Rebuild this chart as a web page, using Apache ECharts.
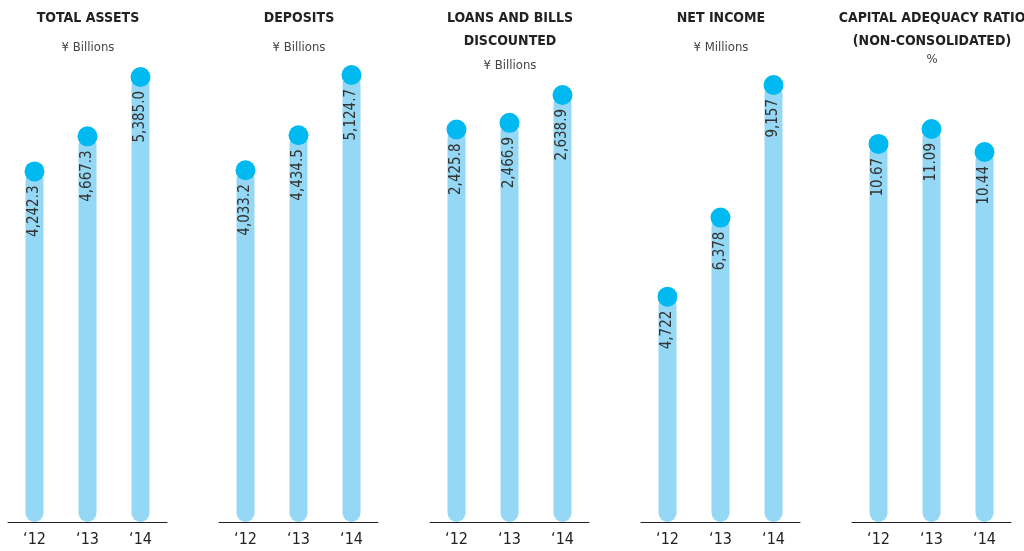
<!DOCTYPE html>
<html lang="en">
<head>
    <meta charset="utf-8">
    <title>Financial Highlights</title>
    <script src="https://cdn.jsdelivr.net/npm/echarts@6/dist/echarts.min.js"></script>
    <style>
        html, body { margin: 0; padding: 0; background: #fff; }
        #main { width: 1024px; height: 551px; }
    </style>
</head>
<body>
<div id="main"></div>
<script type="text/javascript">
    // data
    var years = ['\u201812', '\u201813', '\u201814'];
    var titles = ['TOTAL ASSETS', 'DEPOSITS', 'LOANS AND BILLS\nDISCOUNTED', 'NET INCOME', 'CAPITAL ADEQUACY RATIO\n(NON-CONSOLIDATED)'];
    var units = ['\u00a5 Billions', '\u00a5 Billions', '\u00a5 Billions', '\u00a5 Millions', '%'];
    var totalAssets = [4242.3, 4667.3, 5385.0];
    var deposits = [4033.2, 4434.5, 5124.7];
    var loans = [2425.8, 2466.9, 2638.9];
    var netIncome = [4722, 6378, 9157];
    var capitalRatio = [10.67, 11.09, 10.44];
    var decimals = [1, 1, 1, 0, 2];

    var panels = [totalAssets, deposits, loans, netIncome, capitalRatio];

    // layout: where the tallest dot of each panel sits
    var gridTops = [77, 75, 95, 85, 129];
    var unitTops = [36, 36, 54, 36, 48];
    var font = '"Liberation Sans Narrow", "DejaVu Sans Condensed", "Roboto", sans-serif';

    var myChart = echarts.init(document.getElementById('main'));

    var title = [], grid = [], xAxis = [], yAxis = [], series = [];

    panels.forEach(function (vals, i) {
        var cx = 83 + 211 * i;  // title box has 5px padding
        title.push({
            text: titles[i],
            left: cx,
            top: 2,
            textAlign: 'center',
            textStyle: {
                fontFamily: font,
                fontSize: 14,
                fontWeight: 'bold',
                color: '#222',
                lineHeight: 23
            }
        });
        title.push({
            text: units[i],
            left: cx,
            top: unitTops[i],
            textAlign: 'center',
            textStyle: {
                fontFamily: font,
                fontSize: 13,
                fontWeight: 'normal',
                color: '#444'
            }
        });
        grid.push({
            left: 8 + 211 * i,
            width: 159,
            top: gridTops[i],
            bottom: 29
        });
        xAxis.push({
            type: 'category',
            gridIndex: i,
            data: years,
            axisLine: { lineStyle: { color: '#222', width: 1 } },
            axisTick: { show: false },
            axisLabel: {
                fontFamily: font,
                fontSize: 16,
                color: '#222',
                margin: 10
            },
            z: 5
        });
        yAxis.push({
            type: 'value',
            gridIndex: i,
            min: 0,
            max: 'dataMax',
            show: false
        });
        series.push({
            type: 'bar',
            xAxisIndex: i,
            yAxisIndex: i,
            data: vals,
            barWidth: 18,
            itemStyle: { color: '#94d8f5', borderRadius: 9 },
            label: {
                show: true,
                position: 'insideTop',
                distance: 14,
                rotate: 90,
                align: 'right',
                verticalAlign: 'middle',
                fontFamily: font,
                fontSize: 15,
                color: '#333',
                formatter: function (p) {
                    return p.value.toLocaleString('en-US', {
                        minimumFractionDigits: decimals[i],
                        maximumFractionDigits: decimals[i]
                    });
                }
            },
            silent: true
        });
        series.push({
            type: 'scatter',
            xAxisIndex: i,
            yAxisIndex: i,
            data: vals,
            symbol: 'circle',
            symbolSize: 20,
            itemStyle: { color: '#00b9f1', opacity: 1 },
            z: 4,
            silent: true
        });
    });

    var option = {
        animation: false,
        title: title,
        grid: grid,
        xAxis: xAxis,
        yAxis: yAxis,
        series: series
    };
    myChart.setOption(option);
</script>
</body>
</html>
